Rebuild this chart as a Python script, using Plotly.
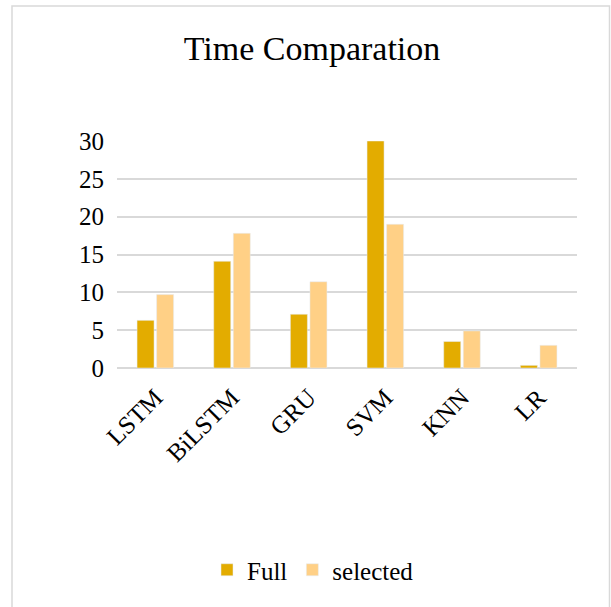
import plotly.graph_objects as go

categories = ["LSTM", "BiLSTM", "GRU", "SVM", "KNN", "LR"]
full_vals = [6.3, 14.1, 7.1, 30.0, 3.5, 0.35]
selected_vals = [9.7, 17.8, 11.4, 19.0, 4.9, 3.0]
y_ticks = [0, 5, 10, 15, 20, 25, 30]

W, H = 611, 607
L, T = 117, 141
pw, ph = 460, 227
R = W - L - pw
B = H - T - ph

def px_x(x):
    return (x - L) / pw

def px_y(y):
    return (T + ph - y) / ph

font_family = "Liberation Serif, Times New Roman, serif"

fig = go.Figure()
fig.add_trace(go.Bar(name="Full", x=categories, y=full_vals, marker_color="#E3AC00"))
fig.add_trace(go.Bar(name="selected", x=categories, y=selected_vals, marker_color="#FFD086"))

fig.update_layout(
    width=W, height=H,
    margin=dict(l=L, r=R, t=T, b=B, autoexpand=False),
    paper_bgcolor="white", plot_bgcolor="white",
    barmode="group", bargap=0.49, bargroupgap=0.13,
    font=dict(family=font_family, color="black", size=25),
    title=dict(text="Time Comparation", x=px_x(312), xref="paper", xanchor="center",
               y=1 - 48 / H, yanchor="middle", yref="container",
               font=dict(size=34, family=font_family, color="black")),
    xaxis=dict(tickangle=-45, showgrid=False, showline=False, ticks="",
               ticklabelstandoff=9,
               tickfont=dict(size=25, family=font_family, color="black")),
    yaxis=dict(range=[0, 30], tickvals=y_ticks, showgrid=True, gridcolor="#D9D9D9",
               gridwidth=1.5, zeroline=True, zerolinecolor="#D9D9D9", zerolinewidth=1.5,
               ticks="", ticklabelstandoff=12,
               tickfont=dict(size=25, family=font_family, color="black")),
    legend=dict(orientation="h", x=px_x(313), xanchor="center", y=px_y(570), yanchor="middle",
                font=dict(size=25, family=font_family, color="black"),
                itemwidth=30, traceorder="normal"),
    shapes=[dict(type="rect", xref="paper", yref="paper",
                 x0=px_x(12), x1=px_x(609.5), y0=px_y(640), y1=px_y(6),
                 line=dict(color="#D9D9D9", width=1.5), fillcolor="rgba(0,0,0,0)", layer="below")],
)

fig.write_html(
    "out.html",
    config={"displayModeBar": False},
    post_script="document.body.style.margin='0';document.body.style.overflow='hidden';",
)
